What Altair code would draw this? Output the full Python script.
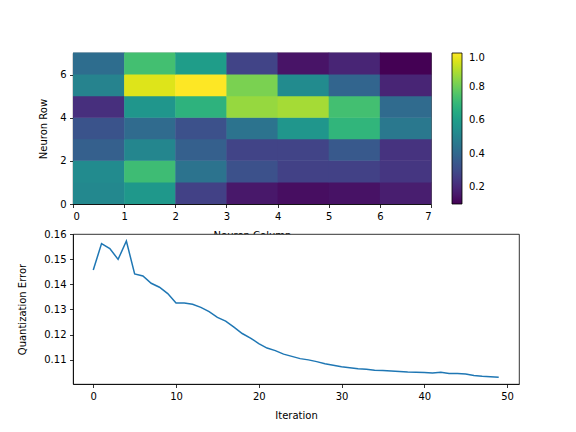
import altair as alt
import pandas as pd

# SOM weight-magnitude grid, rows listed bottom (0) to top (6)
grid_rows = list(range(7))
grid_cols = list(range(7))
row0 = [0.52, 0.58, 0.27, 0.155, 0.13, 0.14, 0.17]
row1 = [0.53, 0.72, 0.44, 0.32, 0.27, 0.27, 0.24]
row2 = [0.37, 0.51, 0.37, 0.28, 0.28, 0.35, 0.23]
row3 = [0.33, 0.41, 0.32, 0.44, 0.57, 0.69, 0.46]
row4 = [0.22, 0.57, 0.68, 0.86, 0.88, 0.73, 0.41]
row5 = [0.50, 0.955, 1.00, 0.82, 0.53, 0.39, 0.19]
row6 = [0.42, 0.73, 0.60, 0.28, 0.145, 0.19, 0.10]
grid = [row0, row1, row2, row3, row4, row5, row6]

# Quantization error per training iteration
iterations = list(range(50))
q_error = [
    0.1457, 0.1562, 0.1542, 0.1499, 0.1572, 0.1441, 0.1433, 0.1404, 0.1388, 0.1363,
    0.1325, 0.1325, 0.1320, 0.1308, 0.1291, 0.1268, 0.1253, 0.1229, 0.1204, 0.1186,
    0.1164, 0.1146, 0.1136, 0.1122, 0.1113, 0.1104, 0.1099, 0.1092, 0.1084, 0.1078,
    0.1072, 0.1068, 0.1064, 0.1062, 0.1058, 0.1057, 0.1055, 0.1053, 0.1051, 0.1050,
    0.1049, 0.1047, 0.1050, 0.1045, 0.1045, 0.1043, 0.1037, 0.1034, 0.1032, 0.1030,
]

x_ticks_top = [0, 1, 2, 3, 4, 5, 6, 7]
y_ticks_top = [0, 2, 4, 6]
cbar_ticks = [0.2, 0.4, 0.6, 0.8, 1.0]
x_ticks_bottom = [0, 10, 20, 30, 40, 50]
y_ticks_bottom = [0.11, 0.12, 0.13, 0.14, 0.15, 0.16]

cells = pd.DataFrame(
    [{"col": c, "row": r, "value": grid[r][c]} for r in grid_rows for c in grid_cols]
)
errors = pd.DataFrame({"iteration": iterations, "error": q_error})

viridis = alt.Scale(scheme="viridis", domain=[0.1, 1.0])

# small overlap on the far edges hides anti-aliasing seams between cells
heat = (
    alt.Chart(cells)
    .transform_calculate(col2="datum.col + 1", row2="datum.row + 1")
    .mark_rect(x2Offset=0.5, y2Offset=-0.5)
    .encode(
        x=alt.X(
            "col:Q",
            scale=alt.Scale(domain=[0, 7], nice=False, zero=False),
            axis=alt.Axis(values=x_ticks_top, format="d", title="Neuron Column", titlePadding=9),
        ),
        x2="col2:Q",
        y=alt.Y(
            "row:Q",
            scale=alt.Scale(domain=[0, 7], nice=False, zero=False),
            axis=alt.Axis(values=y_ticks_top, format="d", title="Neuron Row", titlePadding=11),
        ),
        y2="row2:Q",
        color=alt.Color(
            "value:Q",
            scale=viridis,
            legend=alt.Legend(
                type="gradient",
                title=None,
                values=cbar_ticks,
                format=".1f",
                orient="none",
                legendX=379,
                legendY=0,
                gradientLength=151,
                gradientThickness=10,
                gradientStrokeColor="black",
                gradientStrokeWidth=0.8,
                labelOffset=7,
                labelBaseline="middle",
                labelFontSize=10,
                labelColor="black",
                labelFont="DejaVu Sans",
            ),
        ),
    )
    .properties(width=358, height=151)
)

line = (
    alt.Chart(errors)
    .mark_line(color="#1f77b4", strokeWidth=1.5)
    .encode(
        x=alt.X(
            "iteration:Q",
            scale=alt.Scale(domain=[-2.45, 51.45], nice=False, zero=False),
            axis=alt.Axis(values=x_ticks_bottom, format="d", title="Iteration", titlePadding=9),
        ),
        y=alt.Y(
            "error:Q",
            scale=alt.Scale(domain=[0.1003, 0.16], nice=False, zero=False),
            axis=alt.Axis(values=y_ticks_bottom, format=".2f", title="Quantization Error", titlePadding=16),
        ),
    )
    .properties(width=446, height=150)
)

chart = (
    alt.vconcat(heat, line, spacing=30, bounds="flush")
    .properties(padding={"left": 17, "top": 52, "right": 10, "bottom": 10}, background="white")
    .configure(font="DejaVu Sans")
    .configure_axis(
        grid=False,
        domainColor="black",
        domainWidth=0.8,
        tickColor="black",
        tickWidth=0.8,
        tickSize=3.5,
        labelPadding=3.5,
        labelFontSize=10,
        labelColor="black",
        labelFont="DejaVu Sans",
        titleFont="DejaVu Sans",
        titleFontSize=10,
        titleFontWeight="normal",
        titleColor="black",
    )
    .configure_view(stroke="black", strokeWidth=0.8, fill="white")
)

chart.save("out.html", embed_options={"renderer": "svg", "actions": False})
